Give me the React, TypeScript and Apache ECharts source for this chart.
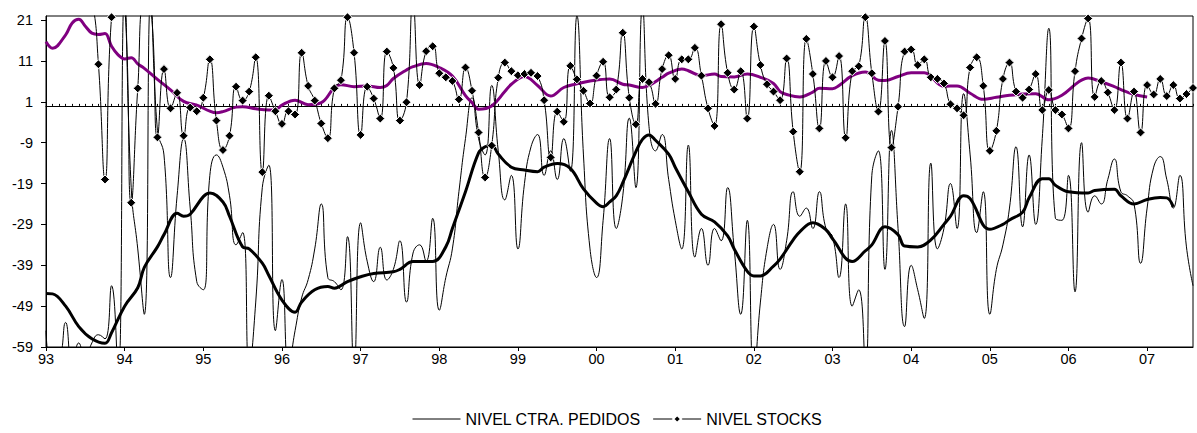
import React, { useEffect, useRef } from "react";
import * as echarts from "echarts";

// Monthly categories, Jan 1993 .. Aug 2007
const FIRST_YEAR = 1993;
const MONTH_COUNT = 176;
const months: string[] = [];
for (let i = 0; i < MONTH_COUNT; i++) {
  const y = FIRST_YEAR + Math.floor(i / 12);
  const m = (i % 12) + 1;
  months.push(`${y}-${m < 10 ? "0" + m : m}`);
}

const yTicks = [-59, -49, -39, -29, -19, -9, 1, 11, 21];

// NIVEL CTRA. PEDIDOS (monthly)
const pedidos: number[] = [
  -55, -64, -63, -53, -64, -58, -62, -58, -56, -57, -44, -66, // 1993
  28, -20, -35, -51, 27, -6, -12, -42, -22, -8, -25, -43, // 1994
  -45, -17, -12, -15, -22, -34, -31, -64, -48, -20, -14.5, -55, // 1995
  -42.5, -64, -55, -47, -42.5, -35, -24, -42, -43, -45, -32, -64, // 1996
  -28.6, -38, -43, -34.6, -42.6, -40, -33, -48, -36, -34, -38, -27.5, // 1997
  -50, -42, -35, -21, -8, 2, -8, -12, 5, -11, -23, -17, // 1998
  -35, -19, -10, -7, -17, -11, -18, -8, -16, 22, -12, -35, // 1999
  -42, -28, -8, -30, -22, -3, -20, 24, -5, -11, -7, -18, // 2000
  -28, -35, -9.6, -37, -30, -39, -30, -33, -20, -35, -51, -28, // 2001
  -66, -48, -35, -29, -40, -33, -21, -27, -25, -30, -21, -30, // 2002
  -32, -42, -24, -49, -45, -63, -17, -11, -40, -6, -30, -54, // 2003
  -39, -45, -52, -14, -35, -30, -19, -30, 3, -12, -31, -21, // 2004
  -51, -40, -34, -25, -10, -29.6, -12, -29, -8, 19, -27.5, -28, // 2005
  -17, -45.5, -9, -26, -22, -24, -18, -13, -21, -22, -24, -38.5, // 2006
  -25, -15, -12.4, -18, -25, -17, -34.5, -44, // 2007
];

// NIVEL STOCKS (monthly)
const stocks: number[] = [
  30, 27, 24.5, 23.5, 26, 30, 28, 26, 10.2, -18, 21.7, 26, // 1993
  25, -23.7, 4.3, 25, 24, -7.7, 9, -0.6, 3.2, -7.3, -0.4, -1.3, // 1994
  2, 11.4, -3.6, -10.8, -7.3, 4.7, 1.3, 3.5, 11.9, -16.2, 2.5, -1.3, // 1995
  -4.4, -1.3, -2.1, 13, 4.9, 1.3, -4.3, -7.9, 4.3, 6.3, 21.7, 13, // 1996
  -7.1, 4.7, 1.8, -3.1, 13.3, 9.3, -3.6, 0.9, 25, 5.1, 13.4, 14.6, // 1997
  8, 7, 6.1, 1.6, 9.4, 3.7, -6.5, -17.5, -9.7, 6.9, 10.6, 8.5, // 1998
  7.5, 7.8, 8.1, 7.3, 1.4, -12.6, -1.4, -3.9, 9.8, 6.5, 3.7, 0.6, // 1999
  7.4, 10.8, 2.1, 4, 17.9, 2, -4.5, 6.6, 5.8, 0.5, 9, 12.4, // 2000
  6.6, 11.4, 11.4, 14.2, 7.4, -0.6, -4.9, 20, 8.1, 4, 8.5, -3.1, // 2001
  19.4, 10, 5.3, 3.5, 1.4, 11.6, -6.3, -16.1, 16.4, 7.8, -5.5, 11, // 2002
  7, 12.2, -7.8, 8.5, 9.7, 21.7, 8, -1.4, 15.9, -10.2, -0.2, 13.3, // 2003
  13.8, 10, 11.4, 7, 6.6, 5.5, 0.4, -0.6, -2.3, 9.4, 11.9, 4.9, // 2004
  -11, -6.1, 6.6, 10.6, 3.5, 2, 4, 7.8, -1, 3.9, -1, -2.1, // 2005
  -5.5, 8.5, 16.5, 21.4, 2.2, 6.1, 3.3, -1, 10.6, -3.1, 3.5, -6.5, // 2006
  5.1, 2.8, 6.6, 2.4, 5.1, 1.8, 2.9, 4.4, // 2007
];

// Smoothed pedidos trend (thick black), read at month indexes
const pedidosTrendMonth: number[] = [
  0, 1, 3, 5, 7, 9, 10, 12, 14, 15, 17, 18, 20, 21, 22, 24, 25,
  27, 28, 30, 31, 33, 34, 36, 38, 39, 41, 43, 44, 46, 48, 50, 53, 54,
  56, 59, 61, 62, 64, 66, 67, 68, 69, 71, 73, 75, 76, 78, 80, 82, 84, 85, 86,
  87, 88, 90, 91, 92, 93, 95, 96, 98, 100, 102, 104, 105, 107, 108, 109, 111, 112, 114, 115,
  117, 119, 120, 123, 125, 126, 128, 130, 131, 133, 135, 137, 138, 140, 141, 144, 146, 147,
  149, 150, 152, 153, 154, 156, 159, 160, 163, 164, 166, 168, 170, 171, 172,
];
const pedidosTrendValue: number[] = [
  -45.9, -46, -49, -54, -57, -58.1, -55.5, -49, -44.5, -39.5, -34.5, -31.5, -26.3, -27, -26.5, -22.2, -21.3,
  -23.5, -27, -34.5, -35, -38.5, -41.5, -47.5, -50.5, -48, -45, -44.2, -44.6, -43, -41.8, -41, -40.6, -40,
  -38.1, -38.1, -34.5, -30, -21, -11.5, -10, -9.6, -11.8, -15, -15.7, -16.1, -15, -14.1, -15.3, -20.3, -23.8, -24.7, -23.5,
  -22, -18.8, -11.2, -8.2, -7.1, -8.4, -11.8, -15, -21, -26.5, -28.4, -31.8, -35, -40.5, -41.6, -41.6, -39.2, -37.5, -32.8, -30.8,
  -28.6, -30.3, -32.5, -38.1, -35.5, -34, -29.6, -31.5, -34.3, -34.5, -32.8, -29, -27, -22, -22.7, -30.2, -29, -27.9,
  -26, -22.5, -17.8, -17.8, -19.4, -21, -21.3, -20.7, -20.4, -22, -24, -22.9, -22.4, -22.5, -24.7,
];

// Smoothed stocks trend (purple), read at month indexes
const stocksTrendMonth: number[] = [
  0, 1, 3, 4, 5, 6, 7, 8, 9, 10, 11, 12, 13, 14, 15, 17, 19, 21, 23, 25,
  26, 27, 29, 30, 32, 34, 35, 36, 38, 40, 42, 44, 45, 47, 49, 51, 52, 53, 55,
  56, 58, 60, 62, 64, 65, 66, 68, 70, 71, 73, 75, 77, 79, 81, 83, 86,
  88, 89, 91, 92, 94, 95, 97, 98, 100, 102, 103, 105, 107, 109, 111, 112, 113, 115,
  117, 118, 120, 121, 123, 125, 127, 128, 130, 132, 134, 137, 139, 141, 143, 145, 147,
  149, 151, 153, 155, 157, 158, 159, 161, 163, 164, 166, 168,
];
const stocksTrendValue: number[] = [
  15.7, 14.1, 17.4, 20.3, 21.2, 19.5, 17.8, 17.5, 17.7, 14.6, 12.5, 11.5, 11.8, 10.3, 9.2, 6.5, 3.9, 1.1, 0.2, -1.3,
  -1.7, -1.4, -0.3, -0.2, -0.7, -1, -1, 0.2, 1.4, 0.3, 0.8, 4.5, 5.2, 4.7, 4.9, 4.5, 5, 6.7, 8.8,
  9.6, 10.4, 9.4, 7.3, 2.5, 0.8, -0.8, 0, 3.5, 5.3, 7.2, 5, 2.4, 4.5, 5.4, 6.1, 6.6,
  5.3, 5.1, 4.5, 5, 7, 8, 9, 8.6, 7.4, 7.8, 7.2, 7.1, 7.8, 7, 5.5, 3.5, 2.8, 2.2,
  3.4, 4.3, 4.2, 5, 7.4, 8.3, 6.3, 6.2, 7.2, 8.1, 8.1, 4.8, 4.9, 3.1, 1.6, 2.1, 2.6,
  2.9, 3, 1.5, 2.6, 5.2, 6.3, 6.8, 5.9, 4.7, 4, 2.8, 2.2,
];

const FONT = "'Liberation Sans', Arial, Helvetica, sans-serif";

export default function App() {
  const ref = useRef<HTMLDivElement>(null);

  useEffect(() => {
    if (!ref.current) return;
    const chart = echarts.init(ref.current, null, { renderer: "svg" });
    const pedTrend = pedidosTrendMonth.map((m, k) => [m, pedidosTrendValue[k]]);
    const stkTrend = stocksTrendMonth.map((m, k) => [m, stocksTrendValue[k]]);

    chart.setOption({
      animation: false,
      backgroundColor: "#ffffff",
      textStyle: { fontFamily: FONT },
      grid: {
        left: 46,
        right: 4,
        top: 16,
        bottom: 86,
        show: true,
        borderColor: "#000",
        borderWidth: 1,
        backgroundColor: "transparent",
      },
      legend: {
        data: [
          { name: "NIVEL CTRA. PEDIDOS", itemStyle: { opacity: 0 }, lineStyle: { width: 1 } },
          { name: "NIVEL STOCKS", lineStyle: { width: 1 } },
        ],
        left: 412,
        top: 411,
        padding: 0,
        itemWidth: 48,
        itemHeight: 10,
        itemGap: 12,
        lineStyle: { width: 1 },
        textStyle: { fontFamily: FONT, fontSize: 16, color: "#000" },
      },
      xAxis: [
        {
          type: "category",
          data: months,
          boundaryGap: false,
          position: "bottom",
          axisLine: { onZero: false, lineStyle: { color: "#000", width: 1 } },
          axisTick: { interval: 11, length: 4, lineStyle: { color: "#000" } },
          axisLabel: {
            interval: 11,
            margin: 4,
            color: "#000",
            fontFamily: FONT,
            fontSize: 14.5,
            formatter: (v: string) => v.slice(2, 4),
          },
          splitLine: { show: false },
        },
        {
          type: "category",
          data: months,
          boundaryGap: false,
          position: "top",
          axisLine: { onZero: true, lineStyle: { color: "#000", width: 1 } },
          axisTick: { show: true, interval: 0, length: 2, lineStyle: { color: "#000" } },
          axisLabel: { show: false },
          splitLine: { show: false },
        },
      ],
      yAxis: {
        type: "value",
        min: -59,
        max: 22,
        axisLine: { show: true, lineStyle: { color: "#000", width: 1 } },
        axisTick: { show: true, length: 5, customValues: yTicks, lineStyle: { color: "#000" } },
        axisLabel: {
          customValues: yTicks,
          margin: 13,
          color: "#000",
          fontFamily: FONT,
          fontSize: 14.5,
        },
        splitLine: { show: false },
      },
      series: [
        {
          name: "NIVEL CTRA. PEDIDOS",
          type: "line",
          data: pedidos,
          smooth: 0.5,
          symbol: "none",
          lineStyle: { color: "#000", width: 1 },
          itemStyle: { color: "#000" },
          z: 2,
        },
        {
          name: "pedidos-tendencia",
          type: "line",
          data: pedTrend,
          smooth: 0.4,
          symbol: "none",
          lineStyle: { color: "#000", width: 3 },
          z: 3,
        },
        {
          name: "stocks-tendencia",
          type: "line",
          data: stkTrend,
          smooth: 0.4,
          symbol: "none",
          lineStyle: { color: "#800080", width: 3 },
          z: 4,
        },
        {
          name: "NIVEL STOCKS",
          type: "line",
          data: stocks,
          smooth: 0.5,
          symbol: "diamond",
          symbolSize: 9,
          showAllSymbol: true,
          lineStyle: { color: "#000", width: 1 },
          itemStyle: { color: "#000", borderColor: "#fff", borderWidth: 1 },
          z: 5,
        },
      ],
    });
    return () => chart.dispose();
  }, []);

  return (
    <div
      ref={ref}
      style={{ position: "fixed", left: 0, top: 0, width: 1197, height: 433, background: "#fff" }}
    />
  );
}
